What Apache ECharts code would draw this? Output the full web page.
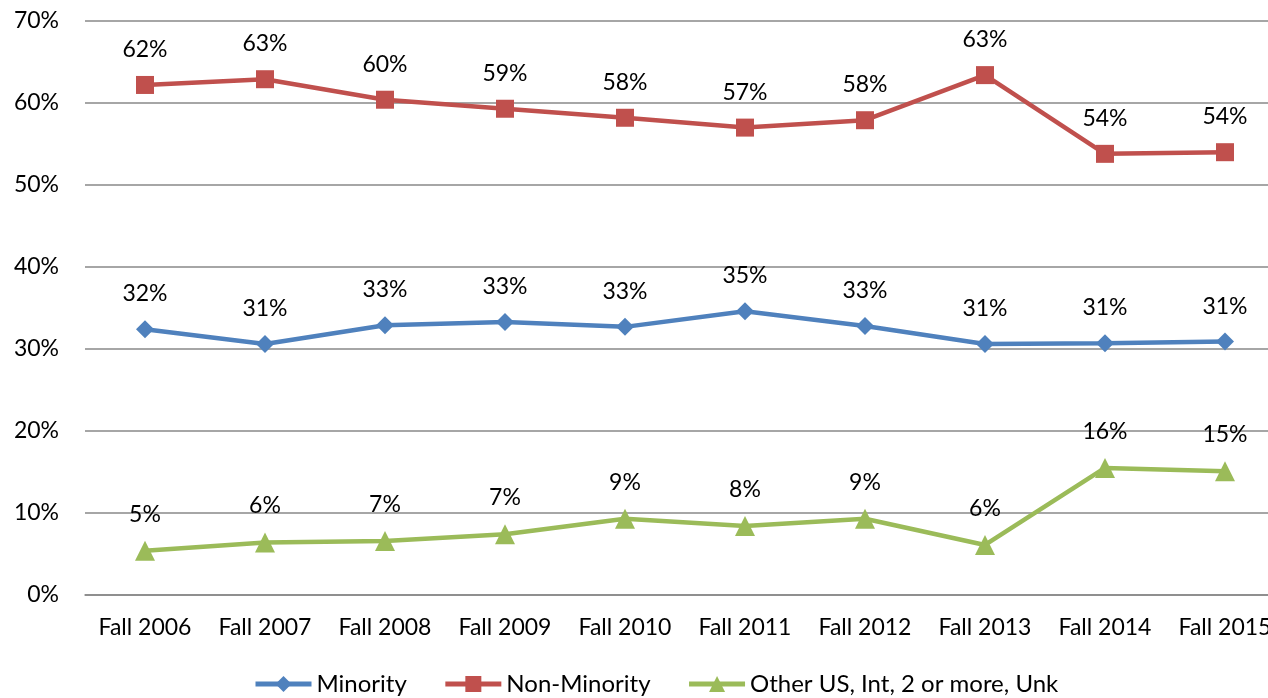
<!DOCTYPE html>
<html>
<head>
<meta charset="utf-8">
<script src="https://cdn.jsdelivr.net/npm/echarts@6/dist/echarts.min.js"></script>
<style>
  html, body { margin: 0; padding: 0; background: #fff; }
  #chart { width: 1268px; height: 698px; }
</style>
</head>
<body>
<div id="chart"></div>
<script>
  const categories = ['Fall 2006', 'Fall 2007', 'Fall 2008', 'Fall 2009', 'Fall 2010', 'Fall 2011', 'Fall 2012', 'Fall 2013', 'Fall 2014', 'Fall 2015'];
  const minority = [32.4, 30.6, 32.9, 33.3, 32.7, 34.6, 32.8, 30.6, 30.7, 30.9];
  const nonMinority = [62.2, 62.9, 60.4, 59.3, 58.2, 57.0, 57.9, 63.4, 53.8, 54.0];
  const other = [5.4, 6.4, 6.6, 7.4, 9.3, 8.4, 9.3, 6.1, 15.5, 15.1];

  const chart = echarts.init(document.getElementById('chart'));
  const font = 'Lato, "Open Sans", sans-serif';

  // label above each point, rounded like the source
  function lbl() {
    return {
      show: true,
      position: 'top',
      distance: 15,
      color: '#000',
      fontSize: 23,
      fontFamily: font,
      formatter: p => Math.round(p.value) + '%'
    };
  }

  const option = {
    animation: false,
    textStyle: { fontFamily: font },
    grid: { left: 85, width: 1200, top: 21, bottom: 103, outerBoundsMode: 'none', containLabel: false },
    legend: {
      left: 248,
      top: 667,
      itemWidth: 56,
      itemHeight: 20,
      itemGap: 36,
      lineStyle: { width: 5 },
      textStyle: { color: '#000', fontSize: 24, fontFamily: font }
    },
    xAxis: {
      type: 'category',
      data: categories,
      boundaryGap: true,
      axisLine: { lineStyle: { color: '#888', width: 1.5 } },
      axisTick: { show: false },
      axisLabel: { color: '#000', fontSize: 23, margin: 21, fontFamily: font, interval: 0 }
    },
    yAxis: {
      type: 'value',
      min: 0,
      max: 70,
      interval: 10,
      axisLine: { show: false },
      axisTick: { show: false },
      splitLine: { lineStyle: { color: '#888', width: 1.5 } },
      axisLabel: { color: '#000', fontSize: 23, margin: 26, fontFamily: font, formatter: '{value}%' }
    },
    series: [
      {
        name: 'Minority',
        type: 'line',
        data: minority,
        symbol: 'diamond',
        symbolSize: 18,
        lineStyle: { color: '#4F81BD', width: 4.5 },
        itemStyle: { color: '#4F81BD' },
        label: lbl()
      },
      {
        name: 'Non-Minority',
        type: 'line',
        data: nonMinority,
        symbol: 'rect',
        symbolSize: 18,
        lineStyle: { color: '#C0504D', width: 4.5 },
        itemStyle: { color: '#C0504D' },
        label: lbl()
      },
      {
        name: 'Other US, Int, 2 or more, Unk',
        type: 'line',
        data: other,
        symbol: 'triangle',
        symbolSize: 20,
        lineStyle: { color: '#9BBB59', width: 4.5 },
        itemStyle: { color: '#9BBB59' },
        label: lbl()
      }
    ]
  };
  chart.setOption(option);
</script>
</body>
</html>
